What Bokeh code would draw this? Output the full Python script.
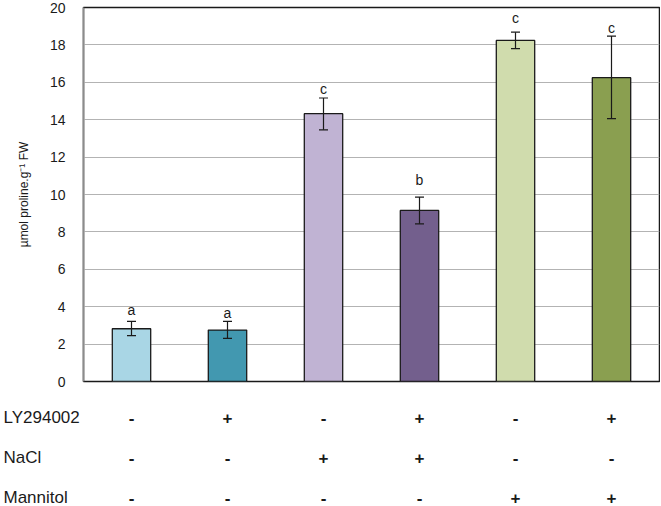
from bokeh.plotting import figure
from bokeh.models import (ColumnDataSource, Range1d, Whisker, TeeHead, FixedTicker)
from bokeh.core.properties import value
from bokeh.embed import file_html
from bokeh.resources import INLINE

# ---- data ----
proline = [2.82, 2.75, 14.32, 9.15, 18.24, 16.25]
err_low = [2.45, 2.31, 13.46, 8.43, 17.80, 14.06]
err_high = [3.21, 3.21, 15.16, 9.86, 18.68, 18.47]
letters = ["a", "a", "c", "b", "c", "c"]
letter_y = [3.84, 3.64, 15.66, 10.75, 19.43, 18.93]
bar_colors = ["#a9d6e5", "#4298b0", "#c0b3d3", "#735f8d", "#d0dcad", "#8a9f50"]
y_ticks = [0, 2, 4, 6, 8, 10, 12, 14, 16, 18, 20]

row_names = ["LY294002", "NaCl", "Mannitol"]
ly294002 = ["-", "+", "-", "+", "-", "+"]
nacl = ["-", "-", "+", "+", "-", "-"]
mannitol = ["-", "-", "-", "-", "+", "+"]

FONT = "Liberation Sans"
W = 660
LEFT = 83
n = len(proline)
xs = [i + 0.5 for i in range(n)]

src = ColumnDataSource(dict(x=xs, top=proline, lo=err_low, hi=err_high,
                            color=bar_colors, lab=letters, ly=letter_y))

p = figure(width=W, height=390, x_range=Range1d(0, n), y_range=Range1d(0, 20),
           output_backend="svg", toolbar_location=None, x_axis_type=None,
           min_border_left=LEFT, min_border_right=1, min_border_top=7,
           min_border_bottom=9)
p.outline_line_color = "#1a1a1a"
p.outline_line_width = 1.5
p.xgrid.grid_line_color = None
p.ygrid.grid_line_color = "#b3b3b3"
p.ygrid.grid_line_width = 1

ax = p.yaxis[0]
ax.ticker = FixedTicker(ticks=y_ticks)
ax.axis_line_color = "#8c8c8c"
ax.axis_line_width = 1.5
ax.major_tick_line_color = None
ax.minor_tick_line_color = None
ax.major_label_standoff = 12
ax.major_label_text_font = FONT
ax.major_label_text_font_size = "14px"
ax.major_label_text_color = "#1a1a1a"
ax.axis_label = "µmol proline.g⁻¹ FW"
ax.axis_label_text_font = FONT
ax.axis_label_text_font_size = "12px"
ax.axis_label_text_font_style = "normal"
ax.axis_label_text_color = "#1a1a1a"
ax.axis_label_standoff = 16

p.vbar(x="x", top="top", width=0.4, fill_color="color", line_color="#1a1a1a",
       line_width=1.3, source=src)

wh = Whisker(source=src, base="x", upper="hi", lower="lo", line_color="#1a1a1a",
             line_width=1.2, level="overlay",
             upper_head=TeeHead(size=9, line_color="#1a1a1a", line_width=1.2),
             lower_head=TeeHead(size=9, line_color="#1a1a1a", line_width=1.2))
p.add_layout(wh)

p.text(x="x", y="ly", text="lab", source=src, text_align="center",
       text_baseline="middle", text_font=value(FONT), text_font_size="14px",
       text_color="#1a1a1a")

# ---- treatment table: separate root, frame spans the full width ----
PX = 96.0  # pixels per category, same as the chart frame (576 / 6)
start = -LEFT / PX
t = figure(width=W, height=116, x_range=Range1d(start, start + W / PX),
           y_range=Range1d(2.225, -0.675), output_backend="svg",
           toolbar_location=None, x_axis_type=None, y_axis_type=None,
           min_border_left=0, min_border_right=0, min_border_top=0,
           min_border_bottom=0)
t.outline_line_color = None
t.grid.visible = False

signs = []
sx, sy = [], []
for r, row in enumerate([ly294002, nacl, mannitol]):
    for i, s in enumerate(row):
        sx.append(xs[i]); sy.append(r); signs.append(s)

t.text(x=[start + 3 / PX] * len(row_names), y=list(range(len(row_names))),
       text=row_names, text_align="left", text_baseline="middle",
       text_font=value(FONT), text_font_size="17px", text_color="#1a1a1a")
t.text(x=sx, y=sy, text=signs, text_align="center", text_baseline="middle",
       text_font=value(FONT), text_font_size="17px", text_font_style="bold",
       text_color="#1a1a1a")

open("out.html", "w").write(file_html([p, t], INLINE))
